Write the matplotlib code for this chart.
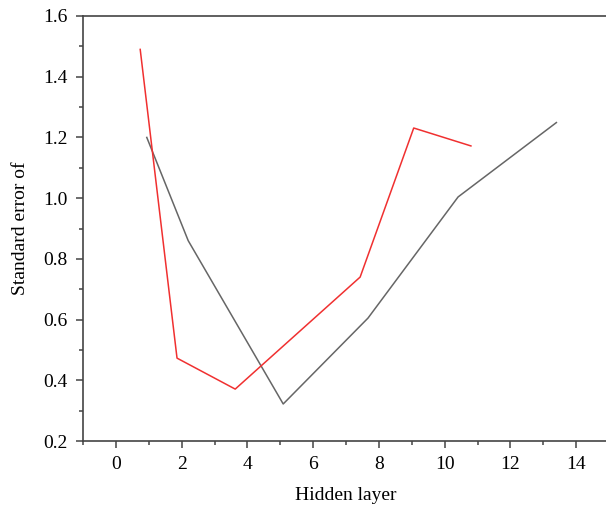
import matplotlib.pyplot as plt
from matplotlib.ticker import MultipleLocator

# Data
x_gray = [0.94, 2.2, 5.09, 7.67, 10.41, 13.4]
y_gray = [1.20, 0.86, 0.322, 0.605, 1.004, 1.249]
x_red = [0.74, 1.86, 3.63, 7.43, 9.06, 10.8]
y_red = [1.49, 0.473, 0.371, 0.74, 1.231, 1.172]

plt.rcParams['font.family'] = 'Liberation Serif'

fig = plt.figure(figsize=(6.06, 5.12), dpi=100)
ax = fig.add_axes([83 / 606, 1 - 441 / 512, (609 - 83) / 606, (441 - 16) / 512])

ax.plot(x_gray, y_gray, color='#666666', lw=1.1)
ax.plot(x_red, y_red, color='#f03030', lw=1.1)

ax.set_xlim(-1, 15)
ax.set_ylim(0.2, 1.6)
ax.xaxis.set_major_locator(MultipleLocator(2))
ax.xaxis.set_minor_locator(MultipleLocator(1))
ax.yaxis.set_major_locator(MultipleLocator(0.2))
ax.yaxis.set_minor_locator(MultipleLocator(0.1))
ax.yaxis.set_major_formatter(plt.FormatStrFormatter('%.1f'))

for s in ['left', 'bottom', 'top']:
    ax.spines[s].set_color('#444444')
    ax.spines[s].set_linewidth(1.2)
ax.spines['right'].set_visible(False)
ax.tick_params(which='major', direction='out', length=5, width=1.1, color='#444444',
               labelsize=14, pad=6)
ax.tick_params(which='minor', direction='out', length=3, width=1.1, color='#444444')

ax.set_xlabel('Hidden layer', fontsize=14, labelpad=10)
ax.set_ylabel('Standard error of', fontsize=14, labelpad=10)

fig.savefig('out.png', dpi=100)
